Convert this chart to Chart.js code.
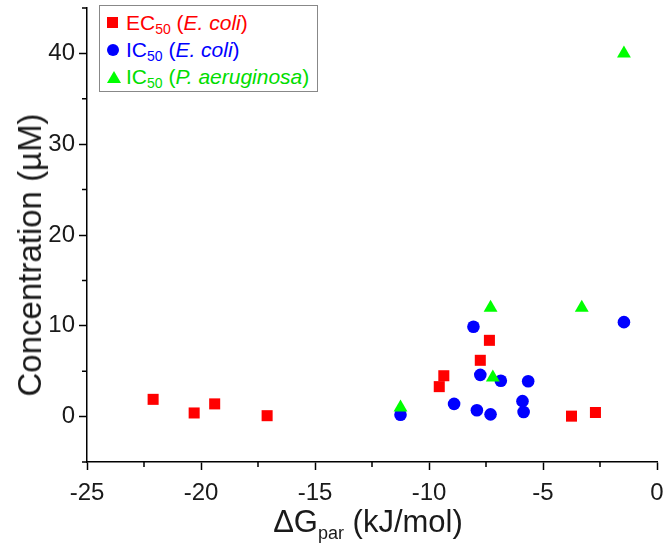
<!DOCTYPE html>
<html>
<head>
<meta charset="utf-8">
<script src="https://cdn.jsdelivr.net/npm/chart.js@4.4.0/dist/chart.umd.min.js"></script>
<style>
  body { margin: 0; background: #fff; font-family: 'Liberation Sans', Arial, sans-serif; }
  #wrap { position: relative; width: 666px; height: 548px; }
  #legend { position: absolute; left: 99px; top: 5px; width: 217px; height: 85px; border: 1.5px solid #888; background: #fff; }
  .row { position: absolute; left: 0; height: 27px; line-height: 27px; font-size: 21px; white-space: nowrap; }
  .row .mk { position: absolute; left: 7px; top: 8px; }
  .row .tx { position: absolute; left: 26px; top: 0; }
  .row sub { font-size: 14px; vertical-align: -4px; line-height: 0; }
  .sq { width: 11px; height: 11px; background: #ff0000; }
  .ci { width: 12px; height: 12px; border-radius: 50%; background: #0000ff; }
  .tr { width: 0; height: 0; border-left: 7px solid transparent; border-right: 7px solid transparent; border-bottom: 12px solid #00ff00; }
  #xtitle { position: absolute; left: 268px; width: 200px; top: 504px; text-align: center; font-size: 31px; color: #1a1a1a; white-space: nowrap; }
  #xtitle sub { font-size: 18px; vertical-align: -7px; line-height: 0; }
  #ytitle { position: absolute; left: 30px; top: 255px; font-size: 33px; color: #1a1a1a; white-space: nowrap;
            transform: translate(-50%, -50%) rotate(-90deg); }
</style>
</head>
<body>
<div id="wrap">
  <canvas id="chart" width="666" height="548"></canvas>
  <div id="legend">
    <div class="row" style="top:3px;color:#ff0000"><span class="mk sq"></span><span class="tx">EC<sub>50</sub> (<i>E. coli</i>)</span></div>
    <div class="row" style="top:30px;color:#0000ff"><span class="mk ci"></span><span class="tx">IC<sub>50</sub> (<i>E. coli</i>)</span></div>
    <div class="row" style="top:57px;color:#00dd00"><span class="mk tr"></span><span class="tx">IC<sub>50</sub> (<i>P. aeruginosa</i>)</span></div>
  </div>
  <div id="xtitle">ΔG<sub>par</sub> (kJ/mol)</div>
  <div id="ytitle">Concentration (µM)</div>
</div>
<script>
// EC50 (E. coli)
const dGec50Ec = [-22.1, -20.3, -19.4, -17.1, -9.55, -9.35, -7.75, -7.35, -3.75, -2.7];
const concEc50Ec = [1.9, 0.4, 1.4, 0.1, 3.3, 4.5, 6.2, 8.4, 0.05, 0.45];
// IC50 (E. coli)
const dGic50Ec = [-11.25, -8.9, -8.05, -7.9, -7.75, -7.3, -6.85, -5.9, -5.85, -5.65, -1.45];
const concIc50Ec = [0.2, 1.4, 9.9, 0.7, 4.6, 0.25, 3.95, 1.7, 0.5, 3.9, 10.4];
// IC50 (P. aeruginosa)
const dGic50Pa = [-11.25, -7.3, -7.2, -3.3, -1.45];
const concIc50Pa = [1.0, 12.0, 4.3, 12.0, 40.0];

const xTicks = [-25, -20, -15, -10, -5, 0];
const xMinor = [-22.5, -17.5, -12.5, -7.5, -2.5];
const yTicks = [0, 10, 20, 30, 40];
const yMinor = [-5, 5, 15, 25, 35, 45];

const pts = (xs, ys) => xs.map((x, i) => ({ x, y: ys[i] }));

// minor ticks, shorter than the major ones
const minorTicks = {
  id: 'minorTicks',
  afterDraw(chart) {
    const { ctx, chartArea, scales } = chart;
    ctx.save();
    ctx.strokeStyle = '#000';
    ctx.lineWidth = 1.5;
    ctx.beginPath();
    xMinor.forEach(v => {
      const px = scales.x.getPixelForValue(v);
      ctx.moveTo(px, chartArea.bottom);
      ctx.lineTo(px, chartArea.bottom + 5);
    });
    yMinor.forEach(v => {
      const py = scales.y.getPixelForValue(v);
      ctx.moveTo(chartArea.left, py);
      ctx.lineTo(chartArea.left - 5, py);
    });
    ctx.stroke();
    ctx.restore();
  }
};

const tickFont = { family: "'Liberation Sans', Arial, sans-serif", size: 24 };

new Chart(document.getElementById('chart'), {
  type: 'scatter',
  data: {
    datasets: [
      { label: 'EC50 (E. coli)', data: pts(dGec50Ec, concEc50Ec), pointStyle: 'rect', pointRadius: 7.8,
        backgroundColor: '#ff0000', borderColor: '#ff0000', borderWidth: 0, order: 3 },
      { label: 'IC50 (E. coli)', data: pts(dGic50Ec, concIc50Ec), pointStyle: 'circle', pointRadius: 6.3,
        backgroundColor: '#0000ff', borderColor: '#0000ff', borderWidth: 0, order: 2 },
      { label: 'IC50 (P. aeruginosa)', data: pts(dGic50Pa, concIc50Pa), pointStyle: 'triangle', pointRadius: 8,
        backgroundColor: '#00ff00', borderColor: '#00ff00', borderWidth: 0, order: 1 }
    ]
  },
  options: {
    responsive: false,
    animation: false,
    layout: { padding: { top: 4, right: 9, left: 0, bottom: 0 } },
    plugins: { legend: { display: false }, tooltip: { enabled: false } },
    scales: {
      x: {
        type: 'linear', min: -25, max: 0,
        afterBuildTicks: s => { s.ticks = xTicks.map(v => ({ value: v })); },
        afterFit: s => { s.height = 86; s.paddingLeft = 0; s.paddingRight = 0; },
        ticks: { font: tickFont, color: '#1a1a1a', padding: 9 },
        grid: { drawOnChartArea: false, tickLength: 8, tickColor: '#000', tickWidth: 1.5 },
        border: { color: '#000', width: 1.5 }
      },
      y: {
        type: 'linear', min: -5, max: 45,
        afterBuildTicks: s => { s.ticks = yTicks.map(v => ({ value: v })); },
        afterFit: s => { s.width = 87; s.paddingTop = 0; s.paddingBottom = 0; },
        ticks: { font: tickFont, color: '#1a1a1a', padding: 4 },
        grid: { drawOnChartArea: false, tickLength: 8, tickColor: '#000', tickWidth: 1.5 },
        border: { color: '#000', width: 1.5 }
      }
    }
  },
  plugins: [minorTicks]
});
</script>
</body>
</html>
